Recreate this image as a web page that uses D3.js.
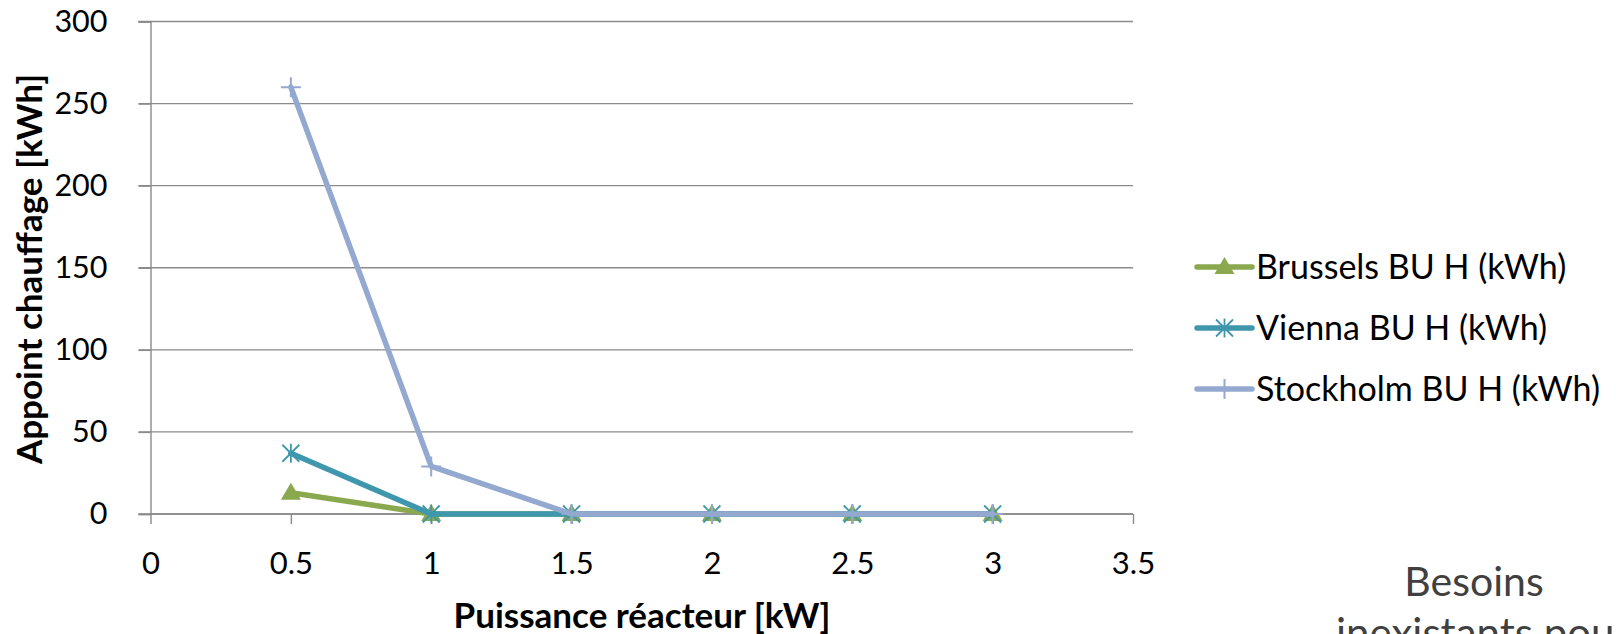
<!DOCTYPE html>
<html><head><meta charset="utf-8">
<script src="https://cdn.jsdelivr.net/npm/d3@7"></script>
<style>html,body{margin:0;padding:0;background:#fff;overflow:hidden}svg{display:block}</style>
</head><body>
<svg id="c" width="1616" height="634"></svg>
<script>
const xValues = [0.5, 1, 1.5, 2, 2.5, 3];
const brussels = [13, 0, 0, 0, 0, 0];
const vienna = [37, 0, 0, 0, 0, 0];
const stockholm = [260, 29, 0, 0, 0, 0];
const xTicks = [0, 0.5, 1, 1.5, 2, 2.5, 3, 3.5];
const yTicks = [0, 50, 100, 150, 200, 250, 300];
const seriesNames = ["Brussels BU H (kWh)", "Vienna BU H (kWh)", "Stockholm BU H (kWh)"];
const xTitle = "Puissance réacteur [kW]";
const yTitle = "Appoint chauffage [kWh]";
const noteLines = ["Besoins", "inexistants pour"];

const colors = ["#8aa84e", "#3f97ad", "#94a9cf"];
const markers = ["triangle", "star", "plus"];
const seriesData = [brussels, vienna, stockholm];

const font = "Lato, Calibri, 'Open Sans', sans-serif";
const svg = d3.select("#c");
const x = d3.scaleLinear().domain([0, 3.5]).range([150.5, 1133]);
const y = d3.scaleLinear().domain([0, 300]).range([514, 21.5]);
const gridColor = "#8a8a8a";

// gridlines
svg.append("g").selectAll("line").data(yTicks).join("line")
  .attr("x1", x(0) - 12).attr("x2", x(3.5))
  .attr("y1", d => y(d)).attr("y2", d => y(d))
  .attr("stroke", gridColor).attr("stroke-width", 1.4);

// y axis
const yAxis = svg.append("g").attr("transform", `translate(${x(0)},0)`)
  .call(d3.axisLeft(y).tickValues(yTicks).tickSize(12).tickPadding(31).tickFormat(d3.format("d")));
yAxis.select(".domain").attr("stroke", gridColor).attr("stroke-width", 1.4);
yAxis.selectAll(".tick line").attr("stroke", gridColor).attr("stroke-width", 1.4);
yAxis.selectAll("text").attr("font-family", font).attr("font-size", 30.5).attr("fill", "#000");

// x axis
const xAxis = svg.append("g").attr("transform", `translate(0,${y(0)})`)
  .call(d3.axisBottom(x).tickValues(xTicks).tickSize(10).tickFormat(d => String(d)));
xAxis.select(".domain").attr("stroke", gridColor).attr("stroke-width", 1.4).attr("d", `M${x(0)},0H${x(3.5)}`);
xAxis.selectAll(".tick line").attr("stroke", gridColor).attr("stroke-width", 1.4);
xAxis.selectAll("text").attr("font-family", font).attr("font-size", 31).attr("fill", "#000")
  .attr("dy", null).attr("y", 60);

// titles
svg.append("text").attr("x", 642).attr("y", 628).attr("text-anchor", "middle")
  .attr("font-family", font).attr("font-weight", "bold").attr("font-size", 35).text(xTitle);
svg.append("text").attr("transform", `translate(42,269) rotate(-90)`).attr("text-anchor", "middle")
  .attr("font-family", font).attr("font-weight", "bold").attr("font-size", 35).text(yTitle);

function drawMarker(g, type, color, cx, cy) {
  if (type === "triangle") {
    g.append("path").attr("d", `M${cx},${cy-10}L${cx+10},${cy+7}L${cx-10},${cy+7}Z`).attr("fill", color);
  } else if (type === "star") {
    const r = 8.5;
    g.append("path").attr("d",
      `M${cx-r},${cy-r}L${cx+r},${cy+r}M${cx-r},${cy+r}L${cx+r},${cy-r}M${cx},${cy-r-1}L${cx},${cy+r+1}`)
      .attr("stroke", color).attr("stroke-width", 1.8).attr("fill", "none");
  } else {
    g.append("path").attr("d", `M${cx-10},${cy}L${cx+10},${cy}M${cx},${cy-10}L${cx},${cy+10}`)
      .attr("stroke", color).attr("stroke-width", 2).attr("fill", "none");
  }
}

const line = d3.line().x(d => x(d[0])).y(d => y(d[1]));
seriesData.forEach((vals, i) => {
  const pts = xValues.map((xv, j) => [xv, vals[j]]);
  const g = svg.append("g");
  g.append("path").attr("d", line(pts)).attr("fill", "none").attr("stroke", colors[i])
    .attr("stroke-width", 5.5).attr("stroke-linejoin", "round").attr("stroke-linecap", "round");
  pts.forEach(p => drawMarker(g, markers[i], colors[i], x(p[0]), y(p[1])));
});

// legend
const lg = svg.append("g");
seriesNames.forEach((name, i) => {
  const cy = 267 + i * 61;
  lg.append("line").attr("x1", 1197).attr("x2", 1252).attr("y1", cy).attr("y2", cy)
    .attr("stroke", colors[i]).attr("stroke-width", 5.5).attr("stroke-linecap", "round");
  drawMarker(lg, markers[i], colors[i], 1224.5, cy);
  lg.append("text").attr("x", 1256).attr("y", cy).attr("dy", "0.35em")
    .attr("font-family", font).attr("font-size", 34).attr("fill", "#000").text(name);
});

// note text
svg.append("text").attr("x", 1474).attr("y", 596).attr("text-anchor", "middle")
  .attr("font-family", font).attr("font-size", 41).attr("fill", "#404040").text(noteLines[0]);
svg.append("text").attr("x", 1336).attr("y", 648)
  .attr("font-family", font).attr("font-size", 42).attr("fill", "#404040").text(noteLines[1]);
</script>
</body></html>
